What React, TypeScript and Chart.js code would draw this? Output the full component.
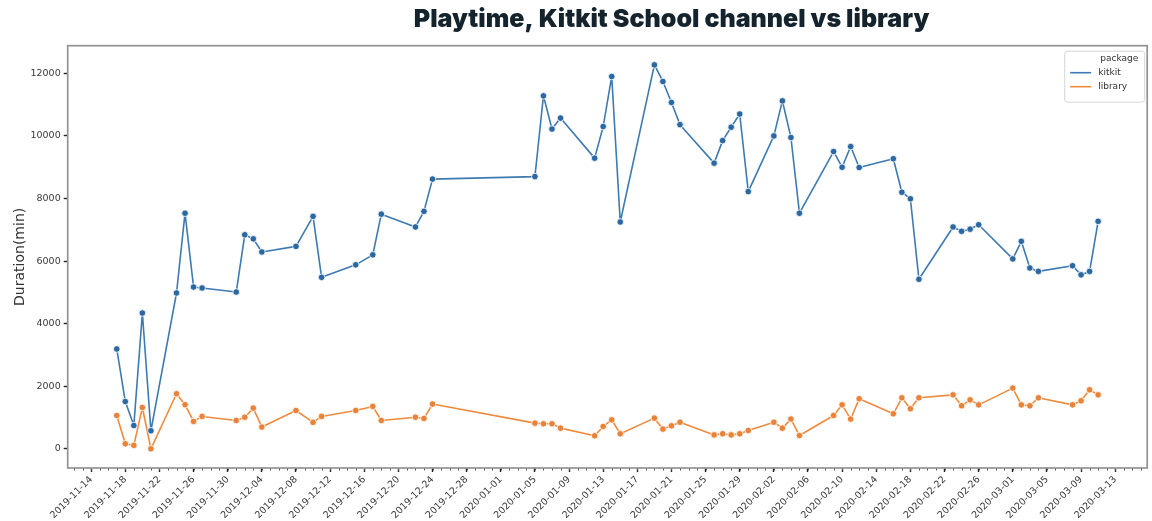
import React, { useEffect, useRef } from 'react';
import { Chart, registerables } from 'chart.js';

Chart.register(...registerables);

const chartTitle = 'Playtime, Kitkit School channel vs library';
const yAxisTitle = 'Duration(min)';
const legendTitle = 'package';
const seriesNames = ['kitkit', 'library'];

const dates = [
  '2019-11-17', '2019-11-18', '2019-11-19', '2019-11-20', '2019-11-21', '2019-11-24', '2019-11-25', '2019-11-26', '2019-11-27',
  '2019-12-01', '2019-12-02', '2019-12-03', '2019-12-04', '2019-12-08', '2019-12-10', '2019-12-11', '2019-12-15', '2019-12-17',
  '2019-12-18', '2019-12-22', '2019-12-23', '2019-12-24',
  '2020-01-05', '2020-01-06', '2020-01-07', '2020-01-08', '2020-01-12', '2020-01-13', '2020-01-14', '2020-01-15', '2020-01-19',
  '2020-01-20', '2020-01-21', '2020-01-22', '2020-01-26', '2020-01-27', '2020-01-28', '2020-01-29', '2020-01-30',
  '2020-02-02', '2020-02-03', '2020-02-04', '2020-02-05', '2020-02-09', '2020-02-10', '2020-02-11', '2020-02-12', '2020-02-16',
  '2020-02-17', '2020-02-18', '2020-02-19', '2020-02-23', '2020-02-24', '2020-02-25', '2020-02-26',
  '2020-03-01', '2020-03-02', '2020-03-03', '2020-03-04', '2020-03-08', '2020-03-09', '2020-03-10', '2020-03-11',
];

const kitkit = [
  3190, 1510, 745, 4340, 575, 4980, 7530, 5170, 5140,
  5010, 6840, 6710, 6290, 6470, 7430, 5480, 5880, 6200,
  7500, 7090, 7590, 8620,
  8700, 11280, 10220, 10570, 9290, 10300, 11900, 7250, 12270,
  11740, 11070, 10360, 9130, 9850, 10280, 10700, 8220,
  10000, 11120, 9950, 7530, 9500, 9000, 9660, 8990, 9270,
  8200, 7990, 5420, 7090, 6950, 7020, 7160,
  6070, 6630, 5780, 5670, 5850, 5560, 5670, 7270,
];

const library = [
  1065, 160, 110, 1320, 0, 1760, 1410, 875, 1035,
  905, 1010, 1300, 695, 1225, 845, 1035, 1225, 1355,
  905, 1010, 970, 1430,
  820, 800, 800, 660, 415, 715, 925, 480, 980,
  630, 735, 850, 445, 480, 445, 480, 585,
  850, 660, 950, 425, 1065, 1405, 950, 1600, 1120,
  1630, 1280, 1630, 1725, 1375, 1565, 1405,
  1940, 1405, 1375, 1630, 1405, 1535, 1885, 1725,
];

const xTickLabels = [
  '2019-11-14', '2019-11-18', '2019-11-22', '2019-11-26', '2019-11-30', '2019-12-04', '2019-12-08', '2019-12-12',
  '2019-12-16', '2019-12-20', '2019-12-24', '2019-12-28', '2020-01-01', '2020-01-05', '2020-01-09', '2020-01-13',
  '2020-01-17', '2020-01-21', '2020-01-25', '2020-01-29', '2020-02-02', '2020-02-06', '2020-02-10', '2020-02-14',
  '2020-02-18', '2020-02-22', '2020-02-26', '2020-03-01', '2020-03-05', '2020-03-09', '2020-03-13',
];

const yTickValues = [0, 2000, 4000, 6000, 8000, 10000, 12000];

const BLUE_LINE = '#3d7ab2';
const BLUE_PT = '#2b67a0';
const ORANGE_LINE = '#ef8b3e';
const ORANGE_PT = '#e9833a';

const BASE = Date.UTC(2019, 10, 14);
const dayOf = (s: string) => {
  const [y, m, d] = s.split('-').map(Number);
  return (Date.UTC(y, m - 1, d) - BASE) / 86400000;
};

const xs = dates.map(dayOf);
const xLo = Math.min(...xs);
const xHi = Math.max(...xs);
const xPad = (xHi - xLo) * 0.05;
const allY = [...kitkit, ...library];
const yLo = Math.min(...allY);
const yHi = Math.max(...allY);
const yPad = (yHi - yLo) * 0.05;

const decorPlugin = {
  id: 'decor',
  beforeDatasetsDraw(chart: any) {
    const { ctx, chartArea, scales } = chart;
    const xs_ = scales.x;
    ctx.save();
    ctx.strokeStyle = '#555';
    ctx.lineWidth = 1;
    for (let d = Math.ceil(xs_.min); d <= Math.floor(xs_.max); d++) {
      const px = Math.round(xs_.getPixelForValue(d)) + 0.5;
      ctx.beginPath();
      ctx.moveTo(px, chartArea.bottom);
      ctx.lineTo(px, chartArea.bottom + 2.5);
      ctx.stroke();
    }
    ctx.strokeStyle = '#939393';
    ctx.lineWidth = 1.7;
    ctx.strokeRect(chartArea.left, chartArea.top, chartArea.right - chartArea.left, chartArea.bottom - chartArea.top);
    ctx.restore();
  },
  afterDraw(chart: any) {
    const { ctx, chartArea } = chart;
    ctx.save();
    ctx.fillStyle = '#14232c';
    ctx.font = '900 25px Inter';
    ctx.textAlign = 'center';
    ctx.textBaseline = 'middle';
    ctx.fillText(chartTitle, 671.5, 19);
    const bx = chartArea.right - 83;
    const by = chartArea.top + 5;
    ctx.fillStyle = 'rgba(255,255,255,0.85)';
    ctx.strokeStyle = '#d6d6d6';
    ctx.lineWidth = 1;
    ctx.beginPath();
    (ctx as any).roundRect(bx + 0.5, by + 0.5, 80, 51, 3);
    ctx.fill();
    ctx.stroke();
    ctx.font = '9px "DejaVu Sans"';
    ctx.fillStyle = '#333';
    ctx.textAlign = 'left';
    ctx.textBaseline = 'middle';
    ctx.fillText(legendTitle, bx + 36, by + 8);
    const cols = [BLUE_LINE, ORANGE_LINE];
    seriesNames.forEach((n, i) => {
      const yy = by + 22 + i * 14;
      ctx.strokeStyle = cols[i];
      ctx.lineWidth = 1.6;
      ctx.beginPath();
      ctx.moveTo(bx + 6, yy);
      ctx.lineTo(bx + 27, yy);
      ctx.stroke();
      ctx.fillStyle = '#333';
      ctx.fillText(n, bx + 34, yy);
    });
    ctx.restore();
  },
};

export default function App() {
  const ref = useRef<HTMLCanvasElement>(null);
  useEffect(() => {
    if (!ref.current) return;
    const mk = (vals: number[], line: string, pt: string, label: string) => ({
      label,
      data: xs.map((x, i) => ({ x, y: vals[i] })),
      borderColor: line,
      backgroundColor: pt,
      pointBackgroundColor: pt,
      pointBorderColor: '#ffffff',
      pointBorderWidth: 0.8,
      pointRadius: 3.3,
      borderWidth: 1.6,
      borderJoinStyle: 'round',
      tension: 0,
    });
    const chart = new Chart(ref.current, {
      type: 'line',
      data: {
        datasets: [
          mk(kitkit, BLUE_LINE, BLUE_PT, seriesNames[0]),
          mk(library, ORANGE_LINE, ORANGE_PT, seriesNames[1]),
        ],
      },
      options: {
        animation: false,
        responsive: false,
        devicePixelRatio: 1,
        events: [],
        layout: { padding: { top: 45.7, right: 3, bottom: 0, left: 0 } },
        plugins: {
          legend: { display: false },
          tooltip: { enabled: false },
          title: { display: false },
        },
        scales: {
          x: {
            type: 'linear',
            min: xLo - xPad,
            max: xHi + xPad,
            afterBuildTicks: (ax: any) => {
              ax.ticks = xTickLabels.map((l) => ({ value: dayOf(l) }));
            },
            afterFit: (s: any) => {
              s.height = 53;
            },
            ticks: {
              autoSkip: false,
              maxRotation: 45,
              minRotation: 45,
              padding: 2,
              color: '#3a3a3a',
              font: { family: 'DejaVu Sans', size: 9.5 },
              callback: (_v: any, i: number) => xTickLabels[i],
            },
            grid: {
              drawOnChartArea: false,
              drawTicks: true,
              tickLength: 4,
              tickWidth: 1.4,
              tickColor: '#222',
            },
            border: { display: false },
          },
          y: {
            type: 'linear',
            min: yLo - yPad,
            max: yHi + yPad,
            afterBuildTicks: (ax: any) => {
              ax.ticks = yTickValues.map((v) => ({ value: v }));
            },
            afterFit: (s: any) => {
              s.width = 67.7;
            },
            ticks: {
              padding: 3,
              color: '#3a3a3a',
              font: { family: 'DejaVu Sans', size: 9.5 },
              callback: (v: any) => String(v),
            },
            grid: {
              drawOnChartArea: false,
              drawTicks: true,
              tickLength: 4,
              tickWidth: 1.4,
              tickColor: '#222',
            },
            border: { display: false },
            title: {
              display: true,
              text: yAxisTitle,
              color: '#333',
              font: { family: 'DejaVu Sans', size: 14 },
              padding: { top: 12, bottom: 0 },
            },
          },
        },
      },
      plugins: [decorPlugin],
    } as any);
    return () => chart.destroy();
  }, []);
  return (
    <div style={{ position: 'fixed', left: 0, top: 0, width: 1152, height: 521, background: '#fff' }}>
      <canvas ref={ref} width={1152} height={521} style={{ display: 'block', width: 1152, height: 521 }} />
    </div>
  );
}
